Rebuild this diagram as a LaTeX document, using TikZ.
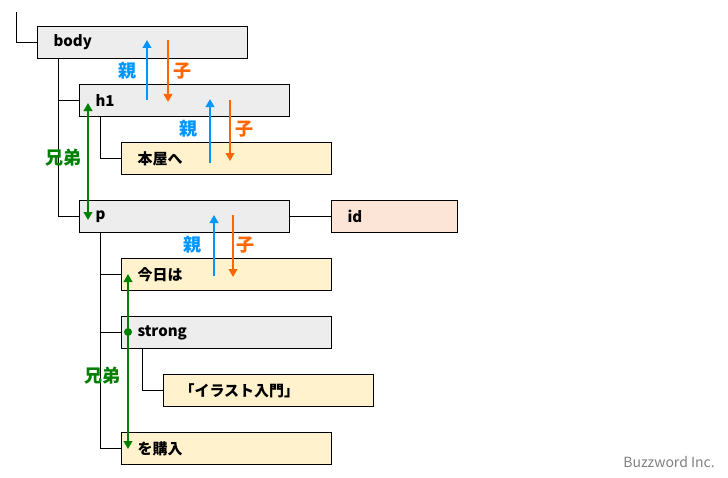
\documentclass[tikz,border=0pt]{standalone}
\usepackage{fontspec}
\setmainfont{Noto Sans CJK JP}
\usetikzlibrary{arrows.meta}
\definecolor{boxgray}{HTML}{EDEDED}
\definecolor{boxyellow}{HTML}{FFF2CC}
\definecolor{boxpink}{HTML}{FCE4D6}
\definecolor{parentblue}{RGB}{0,150,255}
\definecolor{childorange}{RGB}{255,102,0}
\definecolor{siblinggreen}{RGB}{0,128,0}
\definecolor{markgray}{RGB}{128,128,128}
\newcommand{\boxfont}{\fontsize{11.25pt}{13pt}\selectfont\bfseries}
\newcommand{\labfont}{\fontsize{13.5pt}{15pt}\selectfont\bfseries}
\begin{document}
\begin{tikzpicture}[x=0.75pt,y=-0.75pt,
  box/.style={draw=black, line width=0.75pt, anchor=north west, minimum height=24pt,
    text width=133.5pt, inner xsep=12pt, inner ysep=0pt, align=left, font=\boxfont},
  gbox/.style={box, fill=boxgray},
  ybox/.style={box, fill=boxyellow},
  pbox/.style={box, fill=boxpink, text width=70.5pt},
  tree/.style={draw=black, line width=0.75pt},
  uparrow/.style={draw=parentblue, line width=1.3pt, -{Triangle[length=6pt,width=6.5pt]}},
  downarrow/.style={draw=childorange, line width=1.3pt, -{Triangle[length=6pt,width=6.5pt]}},
  sibarrow/.style={draw=siblinggreen, line width=1.3pt, {Triangle[length=6pt,width=6.5pt]}-{Triangle[length=6pt,width=6.5pt]}},
  plab/.style={text=parentblue, font=\labfont, inner sep=0pt},
  clab/.style={text=childorange, font=\labfont, inner sep=0pt},
  slab/.style={text=siblinggreen, font=\labfont, inner sep=0pt}]
\useasboundingbox (0,0) rectangle (728,478);

% boxes
\node[gbox] (body) at (37,26) {body};
\node[gbox] (h1) at (79,84) {h1};
\node[ybox] (hon) at (121,142) {本屋へ};
\node[gbox] (p) at (79,200) {p};
\node[pbox] (id) at (331,200) {id};
\node[ybox] (kyou) at (121,258) {今日は};
\node[gbox] (strong) at (121,316) {strong};
\node[ybox] (ira) at (163,374) {「イラスト入門」};
\node[ybox] (kou) at (121,432) {を購入};

% tree lines
\coordinate (root) at (16,12);
\draw[tree] (root) |- (body.west);
\draw[tree] ([xshift=15.75pt]body.south west) |- (h1.west);
\draw[tree] ([xshift=15.75pt]body.south west) |- (p.west);
\draw[tree] ([xshift=15.75pt]h1.south west) |- (hon.west);
\draw[tree] ([xshift=15.75pt]p.south west) |- (kyou.west);
\draw[tree] ([xshift=15.75pt]p.south west) |- (strong.west);
\draw[tree] ([xshift=15.75pt]p.south west) |- (kou.west);
\draw[tree] ([xshift=15.75pt]strong.south west) |- (ira.west);
\draw[tree] (p.east) -- (id.west);

% parent / child arrows
\coordinate (u1s) at (147,100); \coordinate (u1e) at (147,40);
\coordinate (d1s) at (168,40);  \coordinate (d1e) at (168,102);
\coordinate (u2s) at (210,163); \coordinate (u2e) at (210,99);
\coordinate (d2s) at (230,100); \coordinate (d2e) at (230,161);
\coordinate (u3s) at (214,276); \coordinate (u3e) at (214,215);
\coordinate (d3s) at (233,215); \coordinate (d3e) at (233,277);
\draw[uparrow] (u1s) -- (u1e);
\draw[downarrow] (d1s) -- (d1e);
\draw[uparrow] (u2s) -- (u2e);
\draw[downarrow] (d2s) -- (d2e);
\draw[uparrow] (u3s) -- (u3e);
\draw[downarrow] (d3s) -- (d3e);
\node[plab] (pl1) at (127,71) {親};
\node[clab] (cl1) at (182,71) {子};
\node[plab] (pl2) at (188,129) {親};
\node[clab] (cl2) at (244,129) {子};
\node[plab] (pl3) at (192,245) {親};
\node[clab] (cl3) at (245,245) {子};

% sibling arrows
\coordinate (s1s) at (88,103); \coordinate (s1e) at (88,220);
\coordinate (s2s) at (128,274); \coordinate (s2e) at (128,449);
\draw[sibarrow] (s1s) -- (s1e);
\draw[sibarrow] (s2s) -- (s2e);
\fill[siblinggreen] (128,332) circle (3pt);
\node[slab] (sl1) at (63,158) {兄弟};
\node[slab] (sl2) at (102,376) {兄弟};

% watermark
\node[text=markgray, font=\fontsize{10.5pt}{12pt}\selectfont, anchor=east, inner sep=0pt] (mark) at (715,462) {Buzzword Inc.};
\end{tikzpicture}
\end{document}
